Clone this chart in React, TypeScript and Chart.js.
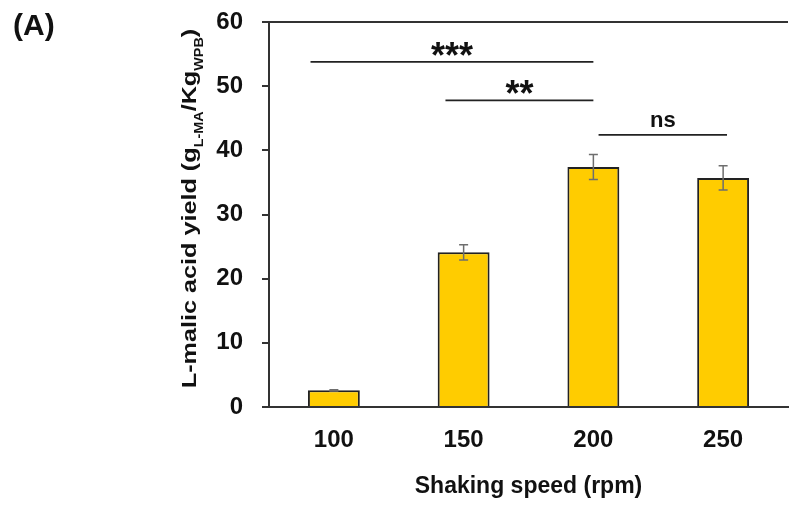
import React, { useEffect, useRef } from "react";
import { Chart, registerables } from "chart.js";

Chart.register(...registerables);

const categories = ["100", "150", "200", "250"];
const yieldValues = [2.6, 24.1, 37.4, 35.7];
const yieldErrors = [0.1, 1.2, 1.95, 1.9];
const yMin = 0;
const yMax = 60;
const yStep = 10;

// significance brackets (category-index positions, level in data units)
const sigFrom = [-0.18, 0.86, 2.04];
const sigTo = [2.0, 2.0, 3.03];
const sigLevel = [53.8, 47.8, 42.4];
const sigLabels = ["***", "**", "ns"];

const panelLabel = "(A)";
const xTitle = "Shaking speed (rpm)";
const yTitleParts = ["L-malic acid yield (g", "L-MA", "/Kg", "WPB", ")"];
const yTitleIsSub = [false, true, false, true, false];

const FAMILY = '"Liberation Sans", Arial, sans-serif';
const AXIS = "#333333";
const TEXT = "#111111";

const overlayPlugin = {
  id: "overlay",
  afterDatasetsDraw(chart: any) {
    const ctx = chart.ctx;
    const xs = chart.scales.x;
    const ys = chart.scales.y;
    const meta = chart.getDatasetMeta(0);
    ctx.save();
    // error bars
    ctx.strokeStyle = "#6e6e6e";
    ctx.lineWidth = 1.5;
    yieldValues.forEach((v, i) => {
      const px = meta.data[i].x;
      const e = yieldErrors[i];
      const t = ys.getPixelForValue(v + e);
      const b = ys.getPixelForValue(v - e);
      ctx.beginPath();
      ctx.moveTo(px, t);
      ctx.lineTo(px, b);
      ctx.moveTo(px - 4.5, t);
      ctx.lineTo(px + 4.5, t);
      ctx.moveTo(px - 4.5, b);
      ctx.lineTo(px + 4.5, b);
      ctx.stroke();
    });
    // significance brackets
    ctx.strokeStyle = "#222222";
    ctx.lineWidth = 1.8;
    ctx.fillStyle = TEXT;
    ctx.textAlign = "center";
    ctx.textBaseline = "alphabetic";
    sigLabels.forEach((lab, i) => {
      const x1 = xs.getPixelForValue(sigFrom[i]);
      const x2 = xs.getPixelForValue(sigTo[i]);
      const yy = ys.getPixelForValue(sigLevel[i]);
      ctx.beginPath();
      ctx.moveTo(x1, yy);
      ctx.lineTo(x2, yy);
      ctx.stroke();
      const isStar = lab.indexOf("*") >= 0;
      ctx.font = isStar ? `bold 36px ${FAMILY}` : `bold 22px ${FAMILY}`;
      const m = ctx.measureText(lab);
      const gap = isStar ? 6 : 8;
      ctx.fillText(lab, (x1 + x2) / 2, yy - gap - m.actualBoundingBoxDescent);
    });
    ctx.restore();
  },
  afterDraw(chart: any) {
    const ctx = chart.ctx;
    const area = chart.chartArea;
    ctx.save();
    // panel label
    ctx.fillStyle = TEXT;
    ctx.font = `bold 30px ${FAMILY}`;
    ctx.textAlign = "left";
    ctx.textBaseline = "alphabetic";
    ctx.fillText(panelLabel, 13, 35);
    // y title with subscripts (stretched along its length)
    const mainFont = `bold 21px ${FAMILY}`;
    const subFont = `bold 12px ${FAMILY}`;
    const stretch = 1.2;
    let total = 0;
    const widths = yTitleParts.map((p, i) => {
      ctx.font = yTitleIsSub[i] ? subFont : mainFont;
      const w = ctx.measureText(p).width;
      total += w;
      return w;
    });
    ctx.translate(196, (area.top + area.bottom) / 2 - 6);
    ctx.rotate(-Math.PI / 2);
    ctx.scale(stretch, 1);
    let cx = -total / 2;
    yTitleParts.forEach((p, i) => {
      ctx.font = yTitleIsSub[i] ? subFont : mainFont;
      ctx.fillText(p, cx, yTitleIsSub[i] ? 7 : 0);
      cx += widths[i];
    });
    ctx.restore();
  },
};

export default function App() {
  const ref = useRef<HTMLCanvasElement | null>(null);
  useEffect(() => {
    document.body.style.margin = "0";
    const canvas = ref.current;
    if (!canvas) return;
    const tickFont = { family: FAMILY, size: 24, weight: "bold" as const };
    const titleFont = { family: FAMILY, size: 23, weight: "bold" as const };
    const chart = new Chart(canvas, {
      type: "bar",
      data: {
        labels: categories,
        datasets: [
          {
            data: yieldValues,
            backgroundColor: "#FFCC00",
            borderColor: "#222222",
            borderWidth: 2,
            borderSkipped: "start",
            barPercentage: 0.4,
            categoryPercentage: 1,
          },
        ],
      },
      options: {
        responsive: false,
        animation: false,
        devicePixelRatio: 1,
        layout: { padding: { left: 0, right: 1, top: 22, bottom: 0 } },
        plugins: {
          legend: { display: false },
          tooltip: { enabled: false },
        },
        scales: {
          x: {
            grid: { display: false, drawTicks: false },
            border: { display: true, color: AXIS, width: 2 },
            ticks: { color: TEXT, font: tickFont, padding: 19 },
            title: {
              display: true,
              text: xTitle,
              color: TEXT,
              font: titleFont,
              padding: { top: 0, bottom: 12 },
            },
            afterFit: (s: any) => {
              s.height = 105;
              s.paddingLeft = 0;
              s.paddingRight = 0;
            },
          },
          y: {
            min: yMin,
            max: yMax,
            ticks: { stepSize: yStep, color: TEXT, font: tickFont, padding: 19 },
            grid: {
              drawOnChartArea: true,
              color: (c: any) => (c.tick && c.tick.value === yMax ? AXIS : "rgba(0,0,0,0)"),
              tickColor: AXIS,
              tickLength: 7,
              lineWidth: 2,
            },
            border: { display: true, color: AXIS, width: 2 },
            afterFit: (s: any) => {
              s.width = 269;
              s.paddingTop = 0;
              s.paddingBottom = 0;
            },
          },
        },
      },
      plugins: [overlayPlugin],
    });
    return () => chart.destroy();
  }, []);
  return (
    <div style={{ position: "absolute", left: 0, top: 0, width: 789, height: 512, background: "#fff" }}>
      <canvas ref={ref} width={789} height={512} style={{ width: 789, height: 512, display: "block" }} />
    </div>
  );
}
